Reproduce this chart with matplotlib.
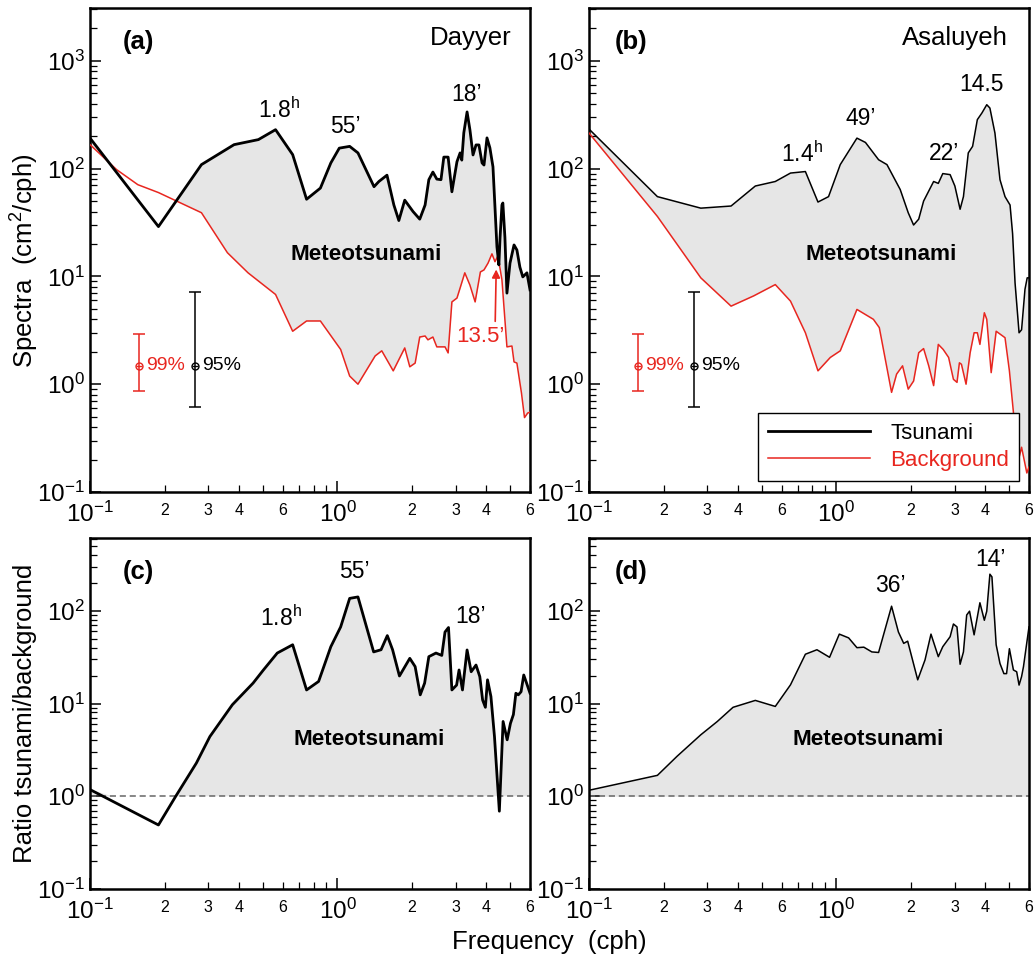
import matplotlib
matplotlib.use('Agg')
import matplotlib.pyplot as plt
from matplotlib.lines import Line2D
from matplotlib.ticker import NullFormatter

plt.rcParams['font.family'] = ['Liberation Sans', 'DejaVu Sans']
plt.rcParams['mathtext.default'] = 'regular'

RED = '#e8261f'
GREY = '#e6e6e6'

# (a) Dayyer spectra
freq_a_tsu = [0.1, 0.189, 0.282, 0.382, 0.479, 0.562, 0.659, 0.75, 0.853, 0.94, 1.017, 1.12, 1.21,
              1.405, 1.47, 1.585, 1.69, 1.77, 1.87, 2.02, 2.15, 2.26, 2.34, 2.43, 2.52, 2.62, 2.69,
              2.80, 2.90, 3.04, 3.13, 3.18, 3.24, 3.34, 3.43, 3.53, 3.63, 3.73, 3.84, 3.91, 4.02,
              4.13, 4.25, 4.33, 4.41, 4.49, 4.54, 4.62, 4.66, 4.75, 4.84, 4.98, 5.17, 5.31, 5.46,
              5.61, 5.83, 6.0]
spec_a_tsu = [192, 29, 109, 167, 186, 230, 135, 52, 66, 113, 155, 161, 140,
              68, 76, 87, 46, 33, 51, 40, 34, 46, 79, 93, 80, 79, 128,
              128, 61, 116, 140, 120, 215, 336, 229, 134, 166, 166, 113, 108, 193,
              156, 104, 44, 18.8, 12.8, 23, 46, 48, 23, 7.0, 13.3, 19.6, 17.6, 12.2,
              9.9, 10.8, 7.5]
freq_a_bg = [0.1, 0.128, 0.156, 0.189, 0.282, 0.359, 0.435, 0.562, 0.659, 0.75, 0.853, 1.03, 1.12,
             1.21, 1.42, 1.51, 1.68, 1.87, 1.96, 2.06, 2.15, 2.26, 2.32, 2.43, 2.52, 2.72, 2.80,
             2.90, 3.04, 3.13, 3.27, 3.43, 3.60, 3.78, 3.91, 4.06, 4.21, 4.33, 4.45, 4.62, 4.84,
             5.07, 5.17, 5.31, 5.54, 5.70, 5.87, 6.0]
spec_a_bg = [167, 98, 71, 60, 39, 16.6, 10.8, 6.8, 3.1, 3.86, 3.86, 2.1, 1.19,
             1.0, 1.83, 2.04, 1.33, 2.17, 1.45, 1.57, 2.74, 2.8, 2.58, 2.74, 2.22, 2.22, 1.95,
             5.8, 6.3, 7.8, 10.8, 8.3, 5.8, 11, 11.5, 13.3, 16.2, 13.7, 15.5, 9.3, 2.22,
             2.26, 1.61, 1.57, 0.83, 0.49, 0.54, 0.55]

# (b) Asaluyeh spectra
freq_b_tsu = [0.1, 0.189, 0.283, 0.375, 0.47, 0.566, 0.652, 0.749, 0.842, 0.929, 1.036, 1.21, 1.31,
              1.48, 1.60, 1.81, 1.95, 2.05, 2.15, 2.25, 2.47, 2.58, 2.69, 2.88, 3.01, 3.16, 3.26,
              3.41, 3.55, 3.71, 3.87, 4.05, 4.17, 4.37, 4.58, 4.80, 5.03, 5.15, 5.27, 5.47, 5.60,
              5.78, 5.90, 6.0]
spec_b_tsu = [233, 55, 43, 45, 69, 76, 91, 94, 49, 55, 109, 192, 175,
              121, 109, 64, 39, 30, 34, 50, 76, 73, 90, 88, 69, 42, 55,
              140, 161, 285, 328, 392, 365, 214, 79, 55, 46, 25, 8.7, 3.0, 3.2,
              7.6, 9.7, 9.7]
freq_b_bg = [0.1, 0.189, 0.283, 0.375, 0.463, 0.566, 0.652, 0.749, 0.842, 0.944, 1.036, 1.21, 1.41,
             1.49, 1.67, 1.75, 1.85, 1.95, 2.05, 2.15, 2.25, 2.36, 2.47, 2.58, 2.70, 2.84, 2.97,
             3.07, 3.14, 3.20, 3.34, 3.47, 3.60, 3.71, 3.80, 3.96, 4.05, 4.22, 4.42, 4.80, 5.0,
             5.19, 5.35, 5.60, 5.88, 6.0]
spec_b_bg = [214, 36, 9.7, 5.3, 6.6, 8.4, 5.9, 3.0, 1.33, 1.77, 2.04, 4.94, 4.0,
             3.35, 0.84, 1.24, 1.48, 0.90, 1.07, 1.96, 2.14, 1.48, 0.97, 2.34, 2.1, 1.77, 1.11,
             1.04, 1.58, 1.53, 1.0, 1.96, 3.0, 3.0, 2.34, 4.6, 4.0, 1.28, 3.1, 2.7, 1.33,
             0.55, 0.17, 0.26, 0.15, 0.17]

# (c) Dayyer ratio
freq_c = [0.1, 0.189, 0.222, 0.269, 0.305, 0.376, 0.456, 0.502, 0.571, 0.659, 0.75, 0.839, 0.94,
          1.03, 1.12, 1.21, 1.40, 1.50, 1.59, 1.67, 1.78, 1.96, 2.06, 2.16, 2.25, 2.34, 2.50,
          2.64, 2.72, 2.81, 2.90, 3.03, 3.10, 3.20, 3.34, 3.47, 3.63, 3.76, 3.86, 3.96, 4.04,
          4.17, 4.31, 4.51, 4.67, 4.85, 5.0, 5.14, 5.26, 5.38, 5.52, 5.66, 5.81, 6.0]
ratio_c = [1.18, 0.49, 1.0, 2.28, 4.4, 9.7, 16.6, 23, 35, 43, 14, 17.3, 41,
           67, 136, 141, 36, 38, 54, 38, 19.8, 30.7, 25, 12.4, 16.6, 32, 35,
           33, 59, 66, 14, 15.8, 23, 14, 37.8, 22, 26, 19.5, 10.9, 9.1, 18,
           11.9, 4.4, 0.69, 6.4, 4.06, 6.1, 7.6, 12.9, 12.4, 13.4, 20.3, 16.6, 12.9]

# (d) Asaluyeh ratio
freq_d = [0.1, 0.189, 0.227, 0.283, 0.33, 0.382, 0.47, 0.566, 0.652, 0.749, 0.834, 0.938, 1.027,
          1.12, 1.21, 1.29, 1.39, 1.48, 1.67, 1.78, 1.87, 1.94, 2.13, 2.28, 2.41, 2.58, 2.69,
          2.88, 2.97, 3.07, 3.16, 3.26, 3.36, 3.45, 3.60, 3.80, 3.96, 4.05, 4.17, 4.25, 4.42,
          4.58, 4.75, 4.87, 5.0, 5.19, 5.35, 5.47, 5.60, 5.70, 6.0]
ratio_d = [1.16, 1.68, 2.7, 4.6, 6.4, 9.1, 10.8, 9.3, 15.9, 34, 38, 31.5, 56,
           51, 40, 40.5, 36, 35.5, 112, 59, 44.5, 47, 18, 29.5, 56, 32, 41,
           52.5, 72, 67, 26.5, 36, 90, 99, 55, 122, 79, 99, 248, 232, 43,
           27, 21, 21, 39, 23, 22, 15.8, 19.5, 25, 67]

x_major = [0.1, 1]
x_major_labels = ['$10^{-1}$', '$10^{0}$']
x_minor = [0.2, 0.3, 0.4, 0.5, 0.6, 0.7, 0.8, 0.9, 2, 3, 4, 5, 6]
x_minor_labels = ['2', '3', '4', '', '6', '', '', '', '2', '3', '4', '', '6']
y_minor = [m * 10.0 ** e for e in range(-1, 4) for m in range(2, 10)]

PEAK_FS = 16.5


def style_axes(ax, ytop, yticks, ylabels):
    ax.set_xscale('log')
    ax.set_yscale('log')
    ax.set_xlim(0.1, 6)
    ax.set_ylim(0.1, ytop)
    ax.set_xticks(x_major, x_major_labels)
    ax.set_xticks(x_minor, x_minor_labels, minor=True)
    ax.set_yticks(yticks, ylabels)
    ax.set_yticks([v for v in y_minor if v < ytop], minor=True)
    ax.yaxis.set_minor_formatter(NullFormatter())
    ax.tick_params(which='both', direction='in', top=False, right=False)
    ax.tick_params(which='major', length=8, width=1.1, labelsize=17.5)
    ax.tick_params(axis='y', which='major', pad=4)
    ax.tick_params(axis='x', which='major', pad=7)
    ax.tick_params(which='minor', length=5, width=0.9)
    ax.tick_params(axis='x', which='minor', labelsize=11.5, pad=8)
    for s in ax.spines.values():
        s.set_linewidth(1.8)


def error_bars(ax):
    for x, lo, hi, col, lbl in [(0.158, 0.867, 2.9, RED, '99%'), (0.266, 0.62, 7.2, 'black', '95%')]:
        ax.errorbar([x], [1.48], yerr=[[1.48 - lo], [hi - 1.48]], color=col, lw=1.1,
                    capsize=4, capthick=1.1, marker='o', ms=5, mfc='none', mec=col, zorder=4)
        ax.plot([x], [1.48], marker='_', ms=5, mec=col, zorder=4)
        ax.text(x * 1.065, 1.48, lbl, color=col, fontsize=14, va='center', ha='left', zorder=5)


fig = plt.figure(figsize=(10.35, 9.56), dpi=100)
ax_a = fig.add_axes([0.0870, 0.4854, 0.4251, 0.5063])
ax_b = fig.add_axes([0.5691, 0.4854, 0.4251, 0.5063])
ax_c = fig.add_axes([0.0870, 0.0701, 0.4251, 0.3672])
ax_d = fig.add_axes([0.5691, 0.0701, 0.4251, 0.3672])

top_ticks = [0.1, 1, 10, 100, 1000]
top_labels = ['$10^{-1}$', '$10^{0}$', '$10^{1}$', '$10^{2}$', '$10^{3}$']
bot_ticks = [0.1, 1, 10, 100]
bot_labels = ['$10^{-1}$', '$10^{0}$', '$10^{1}$', '$10^{2}$']

# spectra panels: grey between tsunami and background curves
for ax, ft, st, fb, sb, lw_t in [(ax_a, freq_a_tsu, spec_a_tsu, freq_a_bg, spec_a_bg, 2.0),
                                  (ax_b, freq_b_tsu, spec_b_tsu, freq_b_bg, spec_b_bg, 1.1)]:
    ax.fill_between(ft, 1e-3, st, color=GREY, lw=0, zorder=1)
    ax.fill_between(fb, 1e-3, sb, color='white', lw=0, zorder=1.5)
    ax.plot(fb, sb, color=RED, lw=1.1, zorder=3)
    ax.plot(ft, st, color='black', lw=lw_t, zorder=3.5)
    style_axes(ax, 3100, top_ticks, top_labels)
    error_bars(ax)

ax_a.text(1.31, 16, 'Meteotsunami', fontsize=16.2, fontweight='bold', ha='center', va='center', zorder=5)
ax_a.text(0.075, 0.93, '(a)', transform=ax_a.transAxes, fontsize=18.5, fontweight='bold', va='center')
ax_a.text(0.958, 0.938, 'Dayyer', transform=ax_a.transAxes, fontsize=18.5, ha='right', va='center')
ax_a.text(0.58, 350, '1.8$^h$', fontsize=PEAK_FS, ha='center', va='center')
ax_a.text(1.08, 247, '55\u2019', fontsize=PEAK_FS, ha='center', va='center')
ax_a.text(3.33, 484, '18\u2019', fontsize=PEAK_FS, ha='center', va='center')
ax_a.annotate('13.5\u2019', xy=(4.38, 11.6), xytext=(3.79, 2.8), color=RED, fontsize=16,
              ha='center', va='center', zorder=5,
              arrowprops=dict(arrowstyle='-|>', color=RED, lw=1.2, relpos=(0.8, 1.0),
                              shrinkA=1, shrinkB=0, mutation_scale=12))

ax_b.text(1.52, 16, 'Meteotsunami', fontsize=16.2, fontweight='bold', ha='center', va='center', zorder=5)
ax_b.text(0.059, 0.93, '(b)', transform=ax_b.transAxes, fontsize=18.5, fontweight='bold', va='center')
ax_b.text(0.952, 0.938, 'Asaluyeh', transform=ax_b.transAxes, fontsize=18.5, ha='right', va='center')
ax_b.text(0.726, 135, '1.4$^h$', fontsize=PEAK_FS, ha='center', va='center')
ax_b.text(1.25, 294, '49\u2019', fontsize=PEAK_FS, ha='center', va='center')
ax_b.text(2.72, 138, '22\u2019', fontsize=PEAK_FS, ha='center', va='center')
ax_b.text(3.87, 600, '14.5', fontsize=PEAK_FS, ha='center', va='center')
handles = [Line2D([], [], color='black', lw=2.0), Line2D([], [], color=RED, lw=1.1)]
leg = ax_b.legend(handles, ['Tsunami', 'Background'], loc='lower right',
                  bbox_to_anchor=(0.977, 0.023), borderaxespad=0, fontsize=16,
                  fancybox=False, edgecolor='black', framealpha=1, handlelength=4.6,
                  handletextpad=0.9, borderpad=0.45, labelspacing=0.25)
leg.get_frame().set_linewidth(1.0)
leg.set_zorder(6)
leg.get_texts()[1].set_color(RED)

# ratio panels
for ax, f, r, lw_r in [(ax_c, freq_c, ratio_c, 2.0), (ax_d, freq_d, ratio_d, 1.1)]:
    ax.fill_between(f, 1, r, where=[v > 1 for v in r], interpolate=True, color=GREY, lw=0, zorder=1)
    ax.axhline(1, color='#666666', lw=1.1, ls=(0, (4, 2.5)), zorder=2)
    ax.plot(f, r, color='black', lw=lw_r, zorder=3.5)
    style_axes(ax, 610, bot_ticks, bot_labels)
    ax.text(1.34, 4.06, 'Meteotsunami', fontsize=16.2, fontweight='bold', ha='center', va='center', zorder=5)

ax_c.text(0.075, 0.903, '(c)', transform=ax_c.transAxes, fontsize=18.5, fontweight='bold', va='center')
ax_c.text(0.59, 83, '1.8$^h$', fontsize=PEAK_FS, ha='center', va='center')
ax_c.text(1.175, 262, '55\u2019', fontsize=PEAK_FS, ha='center', va='center')
ax_c.text(3.44, 86, '18\u2019', fontsize=PEAK_FS, ha='center', va='center')

ax_d.text(0.059, 0.903, '(d)', transform=ax_d.transAxes, fontsize=18.5, fontweight='bold', va='center')
ax_d.text(1.65, 189, '36\u2019', fontsize=PEAK_FS, ha='center', va='center')
ax_d.text(4.18, 357, '14\u2019', fontsize=PEAK_FS, ha='center', va='center')

fig.text(0.024, 0.727, 'Spectra  (cm$^2$/cph)', rotation=90, fontsize=18.5, ha='center', va='center')
fig.text(0.024, 0.254, 'Ratio tsunami/background', rotation=90, fontsize=18.5, ha='center', va='center')
fig.text(0.531, 0.0146, 'Frequency  (cph)', fontsize=18.5, ha='center', va='center')

fig.savefig('out.png', dpi=100)
